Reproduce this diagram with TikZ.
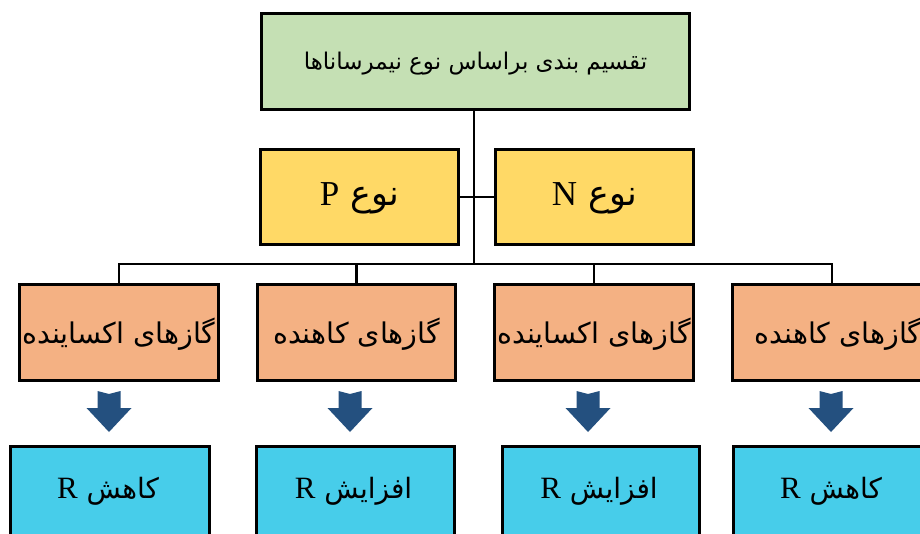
\documentclass[tikz,border=0pt]{standalone}
\usepackage{fontspec}
\setmainfont{Liberation Serif}
\newfontfamily\arabicfont[Script=Arabic]{DejaVu Sans}
\newfontfamily\latinfont{Liberation Serif}
\TeXXeTstate=1
\definecolor{topgreen}{HTML}{C5E0B4}
\definecolor{typeyellow}{HTML}{FFD966}
\definecolor{gasorange}{HTML}{F4B183}
\definecolor{rcyan}{HTML}{47CDEA}
\definecolor{arrowblue}{HTML}{24507F}
\begin{document}
\begin{tikzpicture}[x=1pt,y=-1pt,
  box/.style={draw=black, line width=3pt, inner sep=0pt, anchor=north west},
  conn/.style={line width=2.8pt, black},
  darrow/.pic={\fill[arrowblue] (-11.5,-20) -- (0,-17) -- (11.5,-20) -- (11.5,-3) -- (22.5,-3) -- (0,21) -- (-22.5,-3) -- (-11.5,-3) -- cycle;}
]
\useasboundingbox (0,0) rectangle (920,533);
\clip (0,0) rectangle (920,533);
% top
\node[box, fill=topgreen, minimum width=428pt, minimum height=96pt] (top) at (260,12) {};
\node at ([yshift=-2pt]top.center) {\arabicfont\fontsize{23}{27}\selectfont\beginR تقسیم بندی براساس نوع نیمرساناها\endR};
% types
\node[box, fill=typeyellow, minimum width=198pt, minimum height=95pt] (p) at (259,148) {};
\node[box, fill=typeyellow, minimum width=198pt, minimum height=95pt] (n) at (494,148) {};
\node at ([yshift=-1pt]p.center) {\arabicfont\fontsize{35}{38}\selectfont\beginR نوع {\latinfont\fontsize{35}{38}\selectfont P}\endR};
\node at ([yshift=-1pt]n.center) {\arabicfont\fontsize{35}{38}\selectfont\beginR نوع {\latinfont\fontsize{35}{38}\selectfont N}\endR};
% gases
\node[box, fill=gasorange, minimum width=199pt, minimum height=96pt] (o1) at (18,283) {};
\node[box, fill=gasorange, minimum width=198pt, minimum height=96pt] (o2) at (256,283) {};
\node[box, fill=gasorange, minimum width=199pt, minimum height=96pt] (o3) at (493,283) {};
\node[box, fill=gasorange, minimum width=199pt, minimum height=96pt] (o4) at (731,283) {};
\node at ([yshift=-2pt]o1.center) {\arabicfont\fontsize{28.5}{32}\selectfont\beginR گازهای اکساینده\endR};
\node at ([yshift=-2pt]o2.center) {\arabicfont\fontsize{28.5}{32}\selectfont\beginR گازهای کاهنده\endR};
\node at ([yshift=-2pt]o3.center) {\arabicfont\fontsize{28.5}{32}\selectfont\beginR گازهای اکساینده\endR};
\node at ([yshift=-2pt,xshift=6pt]o4.center) {\arabicfont\fontsize{28.5}{32}\selectfont\beginR گازهای کاهنده\endR};
% results
\node[box, fill=rcyan, minimum width=199pt, minimum height=96pt] (c1) at (9,445) {};
\node[box, fill=rcyan, minimum width=198pt, minimum height=96pt] (c2) at (255,445) {};
\node[box, fill=rcyan, minimum width=197pt, minimum height=96pt] (c3) at (501,445) {};
\node[box, fill=rcyan, minimum width=199pt, minimum height=96pt] (c4) at (732,445) {};
\node at ([yshift=3pt,xshift=-2pt]c1.center) {\arabicfont\fontsize{28}{32}\selectfont\beginR کاهش {\latinfont\fontsize{31}{34}\selectfont R}\endR};
\node at ([yshift=3pt,xshift=-2pt]c2.center) {\arabicfont\fontsize{28}{32}\selectfont\beginR افزایش {\latinfont\fontsize{31}{34}\selectfont R}\endR};
\node at ([yshift=3pt,xshift=-2pt]c3.center) {\arabicfont\fontsize{28}{32}\selectfont\beginR افزایش {\latinfont\fontsize{31}{34}\selectfont R}\endR};
\node at ([yshift=3pt,xshift=-2pt]c4.center) {\arabicfont\fontsize{28}{32}\selectfont\beginR کاهش {\latinfont\fontsize{31}{34}\selectfont R}\endR};
% connectors
\coordinate (bus) at (474,264);
\draw[conn] (top.south -| bus) -- (bus);
\draw[conn] (p.east) -- (n.west);
\draw[conn] (o1.north) |- (bus) -| (o4.north);
\draw[conn] (o2.north) -- (o2.north |- bus);
\draw[conn] (o3.north) -- (o3.north |- bus);
% arrows
\pic at (109,411) {darrow};
\pic at (350,411) {darrow};
\pic at (588,411) {darrow};
\pic at (831,411) {darrow};
\end{tikzpicture}
\end{document}
